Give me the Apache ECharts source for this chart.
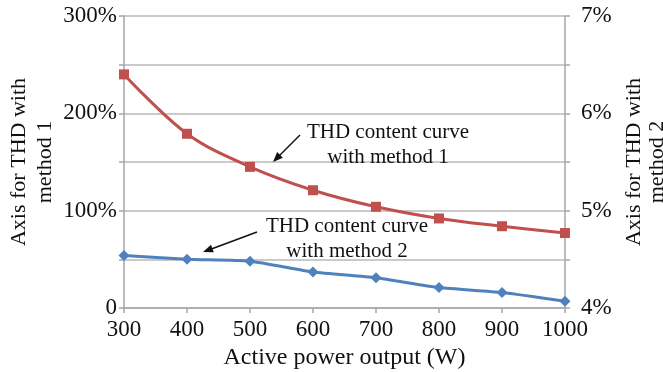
<!DOCTYPE html>
<html><head><meta charset="utf-8">
<script src="https://cdn.jsdelivr.net/npm/echarts@6/dist/echarts.min.js"></script>
<style>html,body{margin:0;padding:0;background:#fff}#c{width:663px;height:372px}</style>
</head><body><div id="c"></div>
<script>
const categories = ['300','400','500','600','700','800','900','1000'];
const method1 = [240, 179, 145, 121, 104, 92, 84, 77];          // left axis, %
const method2 = [4.54, 4.50, 4.48, 4.37, 4.31, 4.21, 4.16, 4.07]; // right axis, %
const leftTicks = [0, 100, 200, 300];
const rightTicks = [4, 5, 6, 7];

const FONT = '"Liberation Serif", "Times New Roman", serif';
const chart = echarts.init(document.getElementById('c'));
const axisGray = '#a6a6a6';
chart.setOption({
  animation: false,
  grid: {left: 124, right: 98, top: 16, bottom: 64, containLabel: false, outerBoundsMode: 'none'},
  xAxis: {
    type: 'category', data: categories, boundaryGap: false,
    axisLine: {lineStyle: {color: axisGray, width: 1.5}},
    axisTick: {show: true, length: 5, lineStyle: {color: axisGray, width: 1.5}},
    axisLabel: {color: '#111', fontFamily: FONT, fontSize: 23, margin: 10},
    name: 'Active power output (W)', nameLocation: 'middle', nameGap: 34,
    nameTextStyle: {color: '#111', fontFamily: FONT, fontSize: 24}
  },
  yAxis: [{
    type: 'value', min: 0, max: 300, interval: 50, position: 'left',
    axisLine: {show: true, lineStyle: {color: axisGray, width: 1.5}},
    axisTick: {show: true, length: 5, lineStyle: {color: axisGray, width: 1.5}},
    splitLine: {show: true, lineStyle: {color: '#b8b8b8', width: 1.5}},
    axisLabel: {color: '#111', fontFamily: FONT, fontSize: 23, margin: 7,
      formatter: v => leftTicks.indexOf(v) < 0 ? '' : (v === 0 ? '0' : v + '%')},
    name: 'Axis for THD with\nmethod 1', nameLocation: 'middle', nameRotate: 90, nameGap: 66,
    nameMoveOverlap: false,
    nameTextStyle: {color: '#111', fontFamily: FONT, fontSize: 22, lineHeight: 26}
  }, {
    type: 'value', min: 4, max: 7, interval: 0.5, position: 'right',
    axisLine: {show: true, lineStyle: {color: axisGray, width: 1.5}},
    axisTick: {show: true, length: 5, lineStyle: {color: axisGray, width: 1.5}},
    splitLine: {show: false},
    axisLabel: {color: '#111', fontFamily: FONT, fontSize: 23, margin: 16,
      formatter: v => rightTicks.indexOf(v) < 0 ? '' : v + '%'},
    name: 'Axis for THD with\nmethod 2', nameLocation: 'middle', nameRotate: 90, nameGap: 50,
    nameTextStyle: {color: '#111', fontFamily: FONT, fontSize: 22, lineHeight: 23}
  }],
  series: [{
    type: 'line', yAxisIndex: 0, data: method1, smooth: 0.35,
    symbol: 'rect', symbolSize: 10,
    lineStyle: {color: '#C0504D', width: 3}, itemStyle: {color: '#C0504D'}
  }, {
    type: 'line', yAxisIndex: 1, data: method2, smooth: 0.2,
    symbol: 'diamond', symbolSize: 11,
    lineStyle: {color: '#4F81BD', width: 3}, itemStyle: {color: '#4F81BD'}
  }],
  graphic: [
    {type: 'text', x: 388, y: 120, style: {text: 'THD content curve\nwith method 1', fill: '#111', font: '21px ' + FONT, textAlign: 'center', lineHeight: 25}, z: 100},
    {type: 'text', x: 347, y: 214, style: {text: 'THD content curve\nwith method 2', fill: '#111', font: '21px ' + FONT, textAlign: 'center', lineHeight: 25}, z: 100},
    {type: 'line', shape: {x1: 300, y1: 135, x2: 278, y2: 157}, style: {stroke: '#111', lineWidth: 1.5}, z: 100},
    {type: 'polygon', shape: {points: [[273,162],[282.9,157.7],[277.2,152.1]]}, style: {fill: '#111'}, z: 100},
    {type: 'line', shape: {x1: 257, y1: 232, x2: 210, y2: 249.5}, style: {stroke: '#111', lineWidth: 1.5}, z: 100},
    {type: 'polygon', shape: {points: [[203,252],[213.8,252.3],[211.0,244.8]]}, style: {fill: '#111'}, z: 100}
  ]
});
</script></body></html>
